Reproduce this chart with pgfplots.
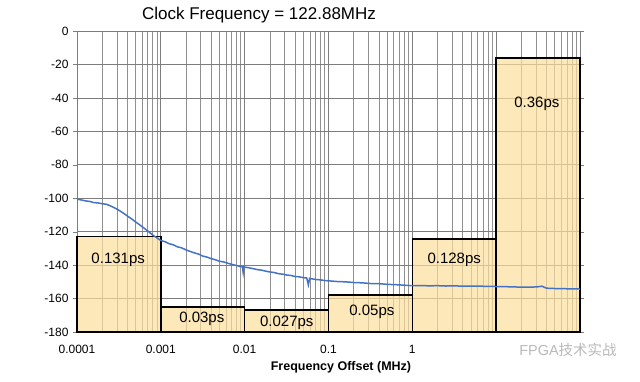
\documentclass[border=0pt]{standalone}
\usepackage{pgfplots}
\pgfplotsset{compat=1.18}
\usepackage{fontspec}
\setmainfont{Liberation Sans}
\newfontfamily\cjk{Noto Sans CJK SC}
\definecolor{barfill}{RGB}{252,222,157}
\definecolor{curve}{RGB}{68,114,196}
\definecolor{gridc}{RGB}{125,125,125}
\begin{document}
\begin{tikzpicture}
\path (-77bp,-50bp) rectangle (563bp,332bp);
\begin{axis}[
  at={(0,0)}, anchor=south west,
  scale only axis, width=503bp, height=301bp,
  xmode=log, log basis x=10,
  xmin=1e-4, xmax=100, ymin=-180, ymax=0,
  ytick={-180,-160,...,0},
  xtick={1e-4,1e-3,1e-2,1e-1,1,10,100},
  xticklabels={0.0001,0.001,0.01,0.1,1,{},{}},
  minor xtick={2e-4,3e-4,4e-4,5e-4,6e-4,7e-4,8e-4,9e-4,
               2e-3,3e-3,4e-3,5e-3,6e-3,7e-3,8e-3,9e-3,
               2e-2,3e-2,4e-2,5e-2,6e-2,7e-2,8e-2,9e-2,
               0.2,0.3,0.4,0.5,0.6,0.7,0.8,0.9,
               2,3,4,5,6,7,8,9,
               20,30,40,50,60,70,80,90},
  /pgf/number format/assume math mode=true,
  ticklabel style={font=\fontsize{12bp}{14bp}\selectfont},
  yticklabel style={xshift=-1bp},
  xticklabel style={yshift=-10bp},
  grid=both,
  major grid style={draw=gridc, line width=0.7bp},
  minor grid style={draw=gridc!85, line width=0.7bp},
  axis line style={draw=gridc, line width=0.8bp},
  tick style={draw=gridc},
  xtick style={draw=none},
  minor tick style={draw=none},
  ytick align=outside, major tick length=4bp,
  clip=false,
]
\addplot[draw=black, line width=1.6bp, fill=barfill, fill opacity=0.7] coordinates {(1e-4,-180) (1e-4,-123) (1e-3,-123) (1e-3,-180)} --cycle;
\addplot[draw=black, line width=1.6bp, fill=barfill, fill opacity=0.7] coordinates {(1e-3,-180) (1e-3,-165) (1e-2,-165) (1e-2,-180)} --cycle;
\addplot[draw=black, line width=1.6bp, fill=barfill, fill opacity=0.7] coordinates {(1e-2,-180) (1e-2,-167) (1e-1,-167) (1e-1,-180)} --cycle;
\addplot[draw=black, line width=1.6bp, fill=barfill, fill opacity=0.7] coordinates {(1e-1,-180) (1e-1,-158) (1,-158) (1,-180)} --cycle;
\addplot[draw=black, line width=1.6bp, fill=barfill, fill opacity=0.7] coordinates {(1,-180) (1,-124.5) (10,-124.5) (10,-180)} --cycle;
\addplot[draw=black, line width=1.6bp, fill=barfill, fill opacity=0.7] coordinates {(10,-180) (10,-16) (100,-16) (100,-180)} --cycle;
\addplot[curve, line width=1.5bp] coordinates {
(1e-4,-100.6) (1.122e-4,-101.0) (1.259e-4,-101.6) (1.413e-4,-101.9) (1.585e-4,-102.6)
(1.778e-4,-102.8) (1.995e-4,-103.3) (2.239e-4,-103.6) (2.512e-4,-104.6) (2.818e-4,-105.8)
(3.162e-4,-107.2) (3.548e-4,-108.8) (3.981e-4,-110.6) (4.467e-4,-112.3) (5.012e-4,-114.2)
(5.623e-4,-116.0) (6.310e-4,-117.9) (7.079e-4,-119.8) (7.943e-4,-121.9) (8.913e-4,-123.6)
(1e-3,-125.3) (1.122e-3,-126.0) (1.259e-3,-127.2) (1.413e-3,-127.9) (1.585e-3,-129.1)
(1.778e-3,-129.7) (1.995e-3,-130.9) (2.239e-3,-131.8) (2.512e-3,-132.7) (2.818e-3,-133.4)
(3.162e-3,-134.6) (3.548e-3,-135.2) (3.981e-3,-136.1) (4.467e-3,-136.8) (5.012e-3,-137.7)
(5.623e-3,-138.1) (6.310e-3,-138.9) (7.079e-3,-139.6) (7.943e-3,-140.2) (8.913e-3,-140.9)
(9.4e-3,-141.0) (9.6e-3,-144.5) (9.8e-3,-141.1)
(1e-2,-141.2) (1.122e-2,-141.6) (1.259e-2,-142.1) (1.413e-2,-142.7) (1.585e-2,-143.0)
(1.778e-2,-143.6) (1.995e-2,-144.1) (2.239e-2,-144.4) (2.512e-2,-145.1) (2.818e-2,-145.4)
(3.162e-2,-145.9) (3.548e-2,-146.2) (3.981e-2,-146.8) (4.467e-2,-147.0) (5.012e-2,-147.5)
(5.5e-2,-147.7) (5.75e-2,-151.8) (5.95e-2,-147.9)
(6.310e-2,-148.2) (7.079e-2,-148.6) (7.943e-2,-148.8) (8.913e-2,-149.2)
(0.1,-149.4) (0.1259,-149.8) (0.1585,-150.0) (0.1995,-150.4) (0.2512,-150.6)
(0.3162,-151.0) (0.3981,-151.1) (0.5012,-151.5) (0.6310,-151.7) (0.7943,-152.0)
(1,-152.3) (1.259,-152.2) (1.585,-152.4) (1.995,-152.3) (2.512,-152.5)
(3.162,-152.4) (3.981,-152.6) (5.012,-152.5) (6.310,-152.6) (7.943,-152.7)
(10,-152.8) (12.59,-152.9) (15.85,-153.0) (19.95,-153.2) (25.12,-153.2)
(31,-153.0) (35,-152.6) (39.81,-153.8) (50.12,-154.0) (63.1,-154.1) (79.43,-154.2) (100,-154.3)
};
\node[font=\fontsize{15bp}{17bp}\selectfont] at (axis cs:3.1e-4,-137) {0.131ps};
\node[font=\fontsize{15bp}{17bp}\selectfont] at (axis cs:3.08e-3,-172.4) {0.03ps};
\node[font=\fontsize{15bp}{17bp}\selectfont] at (axis cs:0.0318,-174.5) {0.027ps};
\node[font=\fontsize{15bp}{17bp}\selectfont] at (axis cs:0.329,-167.9) {0.05ps};
\node[font=\fontsize{15bp}{17bp}\selectfont] at (axis cs:3.16,-136.6) {0.128ps};
\node[font=\fontsize{15bp}{17bp}\selectfont] at (axis cs:30.6,-43.3) {0.36ps};
\end{axis}
\node[font=\fontsize{17bp}{20bp}\selectfont] at (182bp,317bp) {Clock Frequency = 122.88MHz};
\node[font=\fontsize{12.5bp}{15bp}\selectfont\bfseries] at (264bp,-35bp) {Frequency Offset (MHz)};
\node[text=gray!55, font=\fontsize{14.5bp}{16bp}\selectfont] at (491bp,-18bp) {FPGA{\cjk 技术实战}};
\end{tikzpicture}
\end{document}
